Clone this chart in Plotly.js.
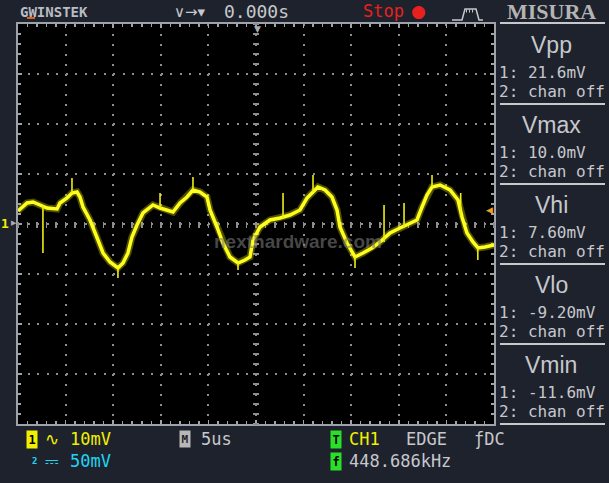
<!DOCTYPE html>
<html><head><meta charset="utf-8">
<script src="https://cdn.plot.ly/plotly-3.0.1.min.js"></script>
<style>html,body{margin:0;padding:0;background:#1e222c;overflow:hidden}</style>
</head><body><div id="chart" style="width:609px;height:483px"></div>
<script>
// ---- data (time in µs relative to trigger, CH1 voltage in mV) ----
const timeUs = [-25.0,-24.05,-23.42,-22.69,-21.95,-20.90,-20.59,-19.85,-19.33,-18.80,-18.49,-18.17,-17.44,-16.60,-16.07,-15.34,-14.50,-13.97,-13.45,-13.03,-12.50,-11.87,-10.82,-10.08,-9.35,-8.72,-7.98,-7.25,-6.62,-5.88,-5.15,-4.83,-4.10,-3.47,-2.73,-1.89,-1.16,-0.63,-0.32,0.42,1.47,2.52,3.57,4.62,5.36,5.99,6.51,7.25,7.98,8.51,8.82,9.56,10.40,11.24,12.18,13.03,14.08,15.13,16.18,16.91,17.44,17.96,18.49,19.33,20.38,21.22,21.64,22.16,22.79,23.32,24.05,25.0];
const ch1mV = [2.6,4.2,4.4,3.8,3.2,3.0,4.2,5.2,6.2,6.4,5.4,3.4,0.8,-3.2,-5.8,-7.6,-8.8,-7.8,-5.8,-2.6,-0.2,2.2,3.8,3.2,2.8,2.4,4.2,5.4,6.8,6.4,5.4,2.8,-0.6,-3.8,-6.6,-7.8,-7.2,-6.6,-3.2,-0.6,0.8,1.2,1.8,2.8,5.2,6.4,7.4,6.8,5.4,2.8,-0.6,-3.8,-6.6,-5.8,-4.8,-3.6,-1.8,-0.8,0.2,0.8,3.4,5.8,7.4,7.8,6.8,4.8,1.4,-1.8,-3.6,-4.8,-4.6,-4.2];
const spikeTimeUs = [-22.38,-19.33,-14.50,-10.08,-6.62,-1.89,2.84,5.99,10.40,13.45,15.55,18.49,21.50,23.30];
const spikeFromMv = [3.8,6.2,-8.8,3.2,6.8,-7.8,1.2,6.4,-6.6,-3.6,-0.8,7.4,1.4,-4.8];
const spikeToMv = [-5.8,9.2,-10.8,6.2,9.4,-9.2,6.2,9.8,-8.8,3.8,4.2,9.8,6.2,-7.2];
const measureNames = ['Vpp','Vmax','Vhi','Vlo','Vmin'];
const measureCh1 = ['21.6mV','10.0mV','7.60mV','-9.20mV','-11.6mV'];
const measureCh2 = ['chan off','chan off','chan off','chan off','chan off'];
const timeRange = [-25, 25];
const voltRange = [-40, 40];

// ---- geometry helpers (pixel -> paper) ----
const L = 18, T = 24, W = 476, H = 400;
const P = x => (x - L) / W;
const Q = y => (T + H - y) / H;
const GREY = '#c6c8cc';
function ann(px, py, text, o) {
  o = o || {};
  const a = {xref:'paper', yref:'paper', x:P(px), y:Q(py), text:text, showarrow:false,
    xanchor:o.xa || 'center', yanchor:'middle',
    font:{family:o.fam || 'DejaVu Sans Mono', size:o.size || 16, color:o.color || GREY, weight:o.weight || 'normal'}};
  if (o.bg) { a.bgcolor = o.bg; a.borderpad = o.pad === undefined ? 0 : o.pad; }
  return a;
}
function hline(x0, x1, y, color, w) {
  return {type:'line', xref:'paper', yref:'paper', x0:P(x0), x1:P(x1), y0:Q(y), y1:Q(y), line:{color:color, width:w}};
}

// spikes as segments separated by null
const sx = [], sy = [];
spikeTimeUs.forEach((t, i) => { sx.push(t, t, null); sy.push(spikeFromMv[i], spikeToMv[i], null); });

const traces = [
  {type:'scatter', mode:'lines', name:'CH1 halo', x:timeUs, y:ch1mV, xaxis:'x', yaxis:'y',
   line:{color:'rgba(225,225,0,0.35)', width:7}, hoverinfo:'skip', showlegend:false},
  {type:'scatter', mode:'lines', name:'CH1', x:timeUs, y:ch1mV, xaxis:'x', yaxis:'y',
   line:{color:'#ffff1e', width:3.5}, hoverinfo:'skip', showlegend:false},
  {type:'scatter', mode:'lines', name:'CH1 spikes', x:sx, y:sy, xaxis:'x2', yaxis:'y2',
   line:{color:'#eeee10', width:1.6}, hoverinfo:'skip', showlegend:false, connectgaps:false}
];

const annotations = [];
const shapes = [];
// right measurement panel
measureNames.forEach((n, k) => {
  annotations.push(ann(551, 45 + 80*k, n, {fam:'Liberation Sans', size:23}));
  annotations.push(ann(497, 72 + 80*k, '1: ' + measureCh1[k], {xa:'left', size:16}));
  annotations.push(ann(497, 91 + 80*k, '2: ' + measureCh2[k], {xa:'left', size:16}));
  shapes.push(hline(500, 605, 104 + 80*k, GREY, 2));
});
shapes.push(hline(500, 605, 23, GREY, 2));
// top bar
annotations.push(ann(18, 12, 'GWINSTEK', {xa:'left', size:14, weight:'bold', color:'#b8bcc4'}));
shapes.push(hline(27, 35, 18, '#e0601a', 2));
annotations.push(ann(190, 12, '∨→▾', {fam:'DejaVu Sans', size:15}));
annotations.push(ann(222, 12, '0.000s', {xa:'left', size:18}));
annotations.push(ann(361, 11, 'Stop', {xa:'left', size:17, color:'#e8201e'}));
annotations.push(ann(418, 11, '●', {fam:'DejaVu Sans', size:17, color:'#e8201e'}));
annotations.push(ann(551, 12, 'MISURA', {fam:'Liberation Serif', size:22, weight:'bold', color:'#b4b4b4'}));
const pulse = [[452,20],[462,20],[465,9],[476,9],[479,20],[483,20]];
shapes.push({type:'path', xref:'paper', yref:'paper', line:{color:GREY, width:1.5},
  path: pulse.map((p, i) => (i ? 'L' : 'M') + P(p[0]) + ',' + Q(p[1])).join(' ')});
shapes.push({type:'line', xref:'paper', yref:'paper', x0:P(466), x1:P(475), y0:Q(11), y1:Q(11),
  line:{color:GREY, width:3, dash:'1px,2px'}});
// markers around the screen
annotations.push(ann(257, 29, '▼', {fam:'DejaVu Sans', size:9, color:'#a8acb4'}));
annotations.push(ann(5, 223, '1', {size:13, color:'#f0f000', weight:'bold'}));
annotations.push(ann(14, 223, '▶', {fam:'DejaVu Sans', size:7, color:'#a8acb4'}));
annotations.push(ann(489, 210, '◀', {fam:'DejaVu Sans', size:9, color:'#f0a020'}));
// watermark
annotations.push(ann(298, 241, 'nexthardware.com', {fam:'Liberation Sans', size:19, weight:'bold', color:'rgba(120,120,120,0.6)'}));
// bottom status
annotations.push(ann(32, 439, '1', {size:12, weight:'bold', color:'#000', bg:'#f0f000', pad:1.5}));
annotations.push(ann(52, 439, '∿', {fam:'DejaVu Sans', size:17, color:'#f0f000'}));
annotations.push(ann(68, 439, '10mV', {xa:'left', size:17, color:'#f0f000'}));
annotations.push(ann(34, 461, '2', {size:9, weight:'bold', color:'#20d4f4'}));
annotations.push(ann(52, 461, '⎓', {fam:'DejaVu Sans', size:17, color:'#20d4f4'}));
annotations.push(ann(68, 461, '50mV', {xa:'left', size:17, color:'#20d4f4'}));
annotations.push(ann(185, 439, 'M', {size:11, weight:'bold', color:'#222', bg:'#b8b8b8', pad:1.5}));
annotations.push(ann(199, 439, '5us', {xa:'left', size:17}));
annotations.push(ann(336, 439, 'T', {size:12, weight:'bold', color:'#000', bg:'#28e028', pad:1.5}));
annotations.push(ann(347, 439, 'CH1', {xa:'left', size:17, color:'#f0f000'}));
annotations.push(ann(404, 439, 'EDGE', {xa:'left', size:17}));
annotations.push(ann(472, 439, 'ƒDC', {xa:'left', size:17}));
annotations.push(ann(336, 461, 'f', {size:12, weight:'bold', color:'#000', bg:'#28e028', pad:1.5}));
annotations.push(ann(347, 461, '448.686kHz', {xa:'left', size:17}));

const frame = {color:'#9ea2aa'};
const baseAxis = {showticklabels:false, zeroline:false, fixedrange:true, layer:'below traces'};
const layout = {
  width:609, height:483,
  margin:{l:L, r:609 - L - W, t:T, b:483 - T - H, pad:0},
  paper_bgcolor:'#1e222c', plot_bgcolor:'#000000',
  showlegend:false,
  xaxis: Object.assign({}, baseAxis, {range:timeRange, tick0:0, dtick:5,
    showgrid:true, gridcolor:'#8e8e8e', gridwidth:2, griddash:'2px,8px',
    showline:true, linecolor:frame.color, linewidth:2, mirror:'ticks',
    ticks:'inside', ticklen:4, tickwidth:1.5, tickcolor:frame.color,
    minor:{dtick:1, ticks:'inside', ticklen:3, tickwidth:1.5, tickcolor:frame.color, showgrid:false}}),
  yaxis: Object.assign({}, baseAxis, {range:voltRange, tick0:0, dtick:10,
    showgrid:true, gridcolor:'#8e8e8e', gridwidth:2, griddash:'2px,7.52px',
    showline:true, linecolor:frame.color, linewidth:2, mirror:'ticks',
    ticks:'inside', ticklen:4, tickwidth:1.5, tickcolor:frame.color,
    minor:{dtick:2, ticks:'inside', ticklen:3, tickwidth:1.5, tickcolor:frame.color, showgrid:false}}),
  xaxis2: Object.assign({}, baseAxis, {range:timeRange, overlaying:'x', anchor:'free', position:0.5 + 3/H,
    tick0:0, dtick:1, ticks:'outside', ticklen:6, tickwidth:1.5, tickcolor:'#8e8e8e',
    showgrid:false, showline:false}),
  yaxis2: Object.assign({}, baseAxis, {range:voltRange, overlaying:'y', anchor:'free', position:0.5 + 3/W, side:'left',
    tick0:0, dtick:2, ticks:'outside', ticklen:6, tickwidth:1.5, tickcolor:'#8e8e8e',
    showgrid:false, showline:false}),
  annotations:annotations, shapes:shapes
};
Plotly.newPlot('chart', traces, layout, {displayModeBar:false, staticPlot:true});
</script></body></html>
